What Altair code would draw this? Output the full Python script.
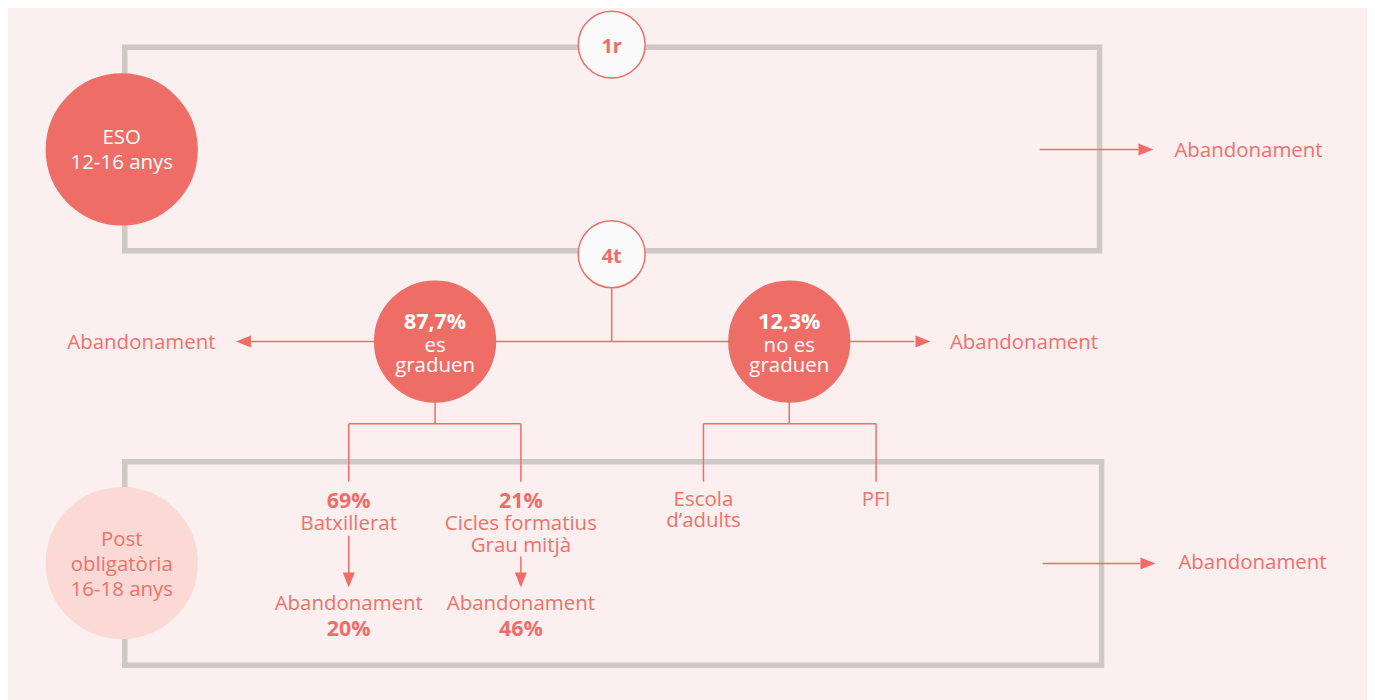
import altair as alt
import pandas as pd

# ---------------- canvas ----------------
W, H = 1362, 692
X0, Y0 = 8, 8

BG = "#fcefef"
CORAL = "#ee6e67"
TEXT_CORAL = "#ef716a"
GRAY = "#cdcac6"
LIGHT = "#fbdad6"
WHITE = "#ffffff"
FONT = "Open Sans"

# ---------------- stage boxes ----------------
box_x = [125, 125]
box_x2 = [1102, 1104]
box_y = [46.5, 462]
box_y2 = [250.5, 666]

# ---------------- nodes (circles) ----------------
node_name = ["ESO", "Post", "1r", "4t", "grad", "nograd"]
node_x = [122, 122, 613, 613, 436, 791]
node_y = [149, 563.5, 44, 254, 341.5, 341.5]
node_r = [75.5, 75.5, 33.5, 33.5, 60.5, 60.5]
node_fill = [CORAL, LIGHT, "#fafafa", "#fafafa", CORAL, CORAL]
node_stroke = [CORAL, LIGHT, CORAL, CORAL, CORAL, CORAL]

# ---------------- connectors ----------------
link_x = [613, 251, 436, 349.5, 349.5, 522, 791, 705, 705, 878, 349.5, 522, 1042, 1045]
link_y = [287, 341.5, 402, 424, 424, 424, 402, 424, 424, 424, 536, 557, 149, 564]
link_x2 = [613, 916, 436, 522, 349.5, 522, 791, 878, 705, 878, 349.5, 522, 1141, 1143]
link_y2 = [341.5, 341.5, 424, 424, 482, 482, 424, 424, 482, 482, 575, 575, 149, 564]

# ---------------- arrow heads (tip positions) ----------------
tip_x = [236.5, 932.5, 1156, 1158, 349.5, 522]
tip_y = [341.5, 341.5, 149, 564, 588, 588]
tip_dir = ["left", "right", "right", "right", "down", "down"]
HEAD = 15  # px

# ---------------- texts ----------------
txt = [
    "ESO", "12-16 anys",
    "1r", "4t",
    "87,7%", "es", "graduen",
    "12,3%", "no es", "graduen",
    "Abandonament", "Abandonament", "Abandonament", "Abandonament",
    "Post", "obligatòria", "16-18 anys",
    "69%", "Batxillerat", "Abandonament", "20%",
    "21%", "Cicles formatius", "Grau mitjà", "Abandonament", "46%",
    "Escola", "d’adults", "PFI",
]
txt_x = [
    122, 122,
    613, 613,
    436, 436, 436,
    791, 791, 791,
    1177, 216, 952, 1181,
    122, 122, 122,
    349.5, 349.5, 349.5, 349.5,
    522, 522, 522, 522, 522,
    705, 705, 878,
]
txt_y = [
    144, 169,
    52.5, 262.5,
    329, 351.5, 372,
    329, 351.5, 372,
    156.5, 349, 349, 569,
    546.5, 571.5, 596.5,
    508, 530, 611, 637,
    508, 530, 552, 611, 637,
    506, 527.5, 506,
]
txt_size = [
    20.5, 20.5,
    20, 20,
    21.5, 20.5, 20.5,
    21.5, 20.5, 20.5,
    20.5, 20.5, 20.5, 20.5,
    20.5, 20.5, 20.5,
    21.5, 20.5, 20.5, 21.5,
    21.5, 20.5, 20.5, 20.5, 21.5,
    20.5, 20.5, 20.5,
]
txt_color = [
    WHITE, WHITE,
    CORAL, CORAL,
    WHITE, WHITE, WHITE,
    WHITE, WHITE, WHITE,
    TEXT_CORAL, TEXT_CORAL, TEXT_CORAL, TEXT_CORAL,
    TEXT_CORAL, TEXT_CORAL, TEXT_CORAL,
    CORAL, TEXT_CORAL, TEXT_CORAL, CORAL,
    CORAL, TEXT_CORAL, TEXT_CORAL, TEXT_CORAL, CORAL,
    TEXT_CORAL, TEXT_CORAL, TEXT_CORAL,
]
txt_weight = [
    "normal", "normal",
    "bold", "bold",
    "bold", "normal", "normal",
    "bold", "normal", "normal",
    "normal", "normal", "normal", "normal",
    "normal", "normal", "normal",
    "bold", "normal", "normal", "bold",
    "bold", "normal", "normal", "normal", "bold",
    "normal", "normal", "normal",
]
txt_align = [
    "center", "center",
    "center", "center",
    "center", "center", "center",
    "center", "center", "center",
    "left", "right", "left", "left",
    "center", "center", "center",
    "center", "center", "center", "center",
    "center", "center", "center", "center", "center",
    "center", "center", "center",
]

# ---------------- scales ----------------
xs = alt.Scale(domain=[X0, X0 + W], nice=False, zero=False)
ys = alt.Scale(domain=[Y0, Y0 + H], nice=False, zero=False, reverse=True)


def X(f):
    return alt.X(f"{f}:Q", scale=xs, axis=None)


def Y(f):
    return alt.Y(f"{f}:Q", scale=ys, axis=None)


# ---------------- tables ----------------
boxes = pd.DataFrame({"x": box_x, "x2": box_x2, "y": box_y, "y2": box_y2})
nodes = pd.DataFrame({
    "name": node_name, "x": node_x, "y": node_y,
    "size": [(2 * r) ** 2 for r in node_r],
    "fill": node_fill, "stroke": node_stroke,
})
links = pd.DataFrame({"x": link_x, "y": link_y, "x2": link_x2, "y2": link_y2})

paths = {
    "right": "M-1,-0.8L1,0L-1,0.8Z",
    "left": "M1,-0.8L-1,0L1,0.8Z",
    "down": "M-0.8,-1L0.8,-1L0,1Z",
}
dx = {"right": -HEAD / 2, "left": HEAD / 2, "down": 0}
dy = {"right": 0, "left": 0, "down": -HEAD / 2}
heads = pd.DataFrame({
    "x": [x + dx[d] for x, d in zip(tip_x, tip_dir)],
    "y": [y + dy[d] for y, d in zip(tip_y, tip_dir)],
    "shape": [paths[d] for d in tip_dir],
})

texts = pd.DataFrame({
    "label": txt, "x": txt_x, "y": txt_y, "fs": txt_size,
    "col": txt_color, "fw": txt_weight, "al": txt_align,
})

# ---------------- layers ----------------
box_layer = alt.Chart(boxes).mark_rect(
    filled=False, color=GRAY, strokeWidth=5.5
).encode(x=X("x"), x2="x2", y=Y("y"), y2="y2")

link_layer = alt.Chart(links).mark_rule(
    color=CORAL, strokeWidth=1.5
).encode(x=X("x"), x2="x2", y=Y("y"), y2="y2")

node_layers = []
for i in range(len(node_name)):
    node_layers.append(
        alt.Chart(nodes.iloc[[i]]).mark_point(
            shape="circle", filled=True, opacity=1, strokeWidth=1.5,
            fill=node_fill[i], stroke=node_stroke[i],
            size=(2 * node_r[i]) ** 2,
        ).encode(x=X("x"), y=Y("y"))
    )

head_layers = []
for d in ["left", "right", "down"]:
    sub = heads[[s == paths[d] for s in heads["shape"]]]
    head_layers.append(
        alt.Chart(sub).mark_point(
            filled=True, opacity=1, color=CORAL, strokeWidth=0,
            shape=paths[d], size=HEAD * HEAD,
        ).encode(x=X("x"), y=Y("y"))
    )

text_layers = []
groups = texts.groupby(["fs", "col", "fw", "al"], sort=False)
for (fs, col, fw, al), sub in groups:
    text_layers.append(
        alt.Chart(sub.reset_index(drop=True)).mark_text(
            align=al, baseline="alphabetic", font=FONT,
            fontWeight=fw, fontSize=float(fs), color=col,
        ).encode(x=X("x"), y=Y("y"), text="label:N")
    )

chart = alt.layer(
    box_layer, link_layer, *head_layers, *node_layers, *text_layers
).properties(
    width=W, height=H, background=BG, padding=0,
    autosize=alt.AutoSizeParams(type="none"),
).configure_view(stroke=None)

chart.save("out.html", embed_options={"renderer": "svg", "actions": False})
